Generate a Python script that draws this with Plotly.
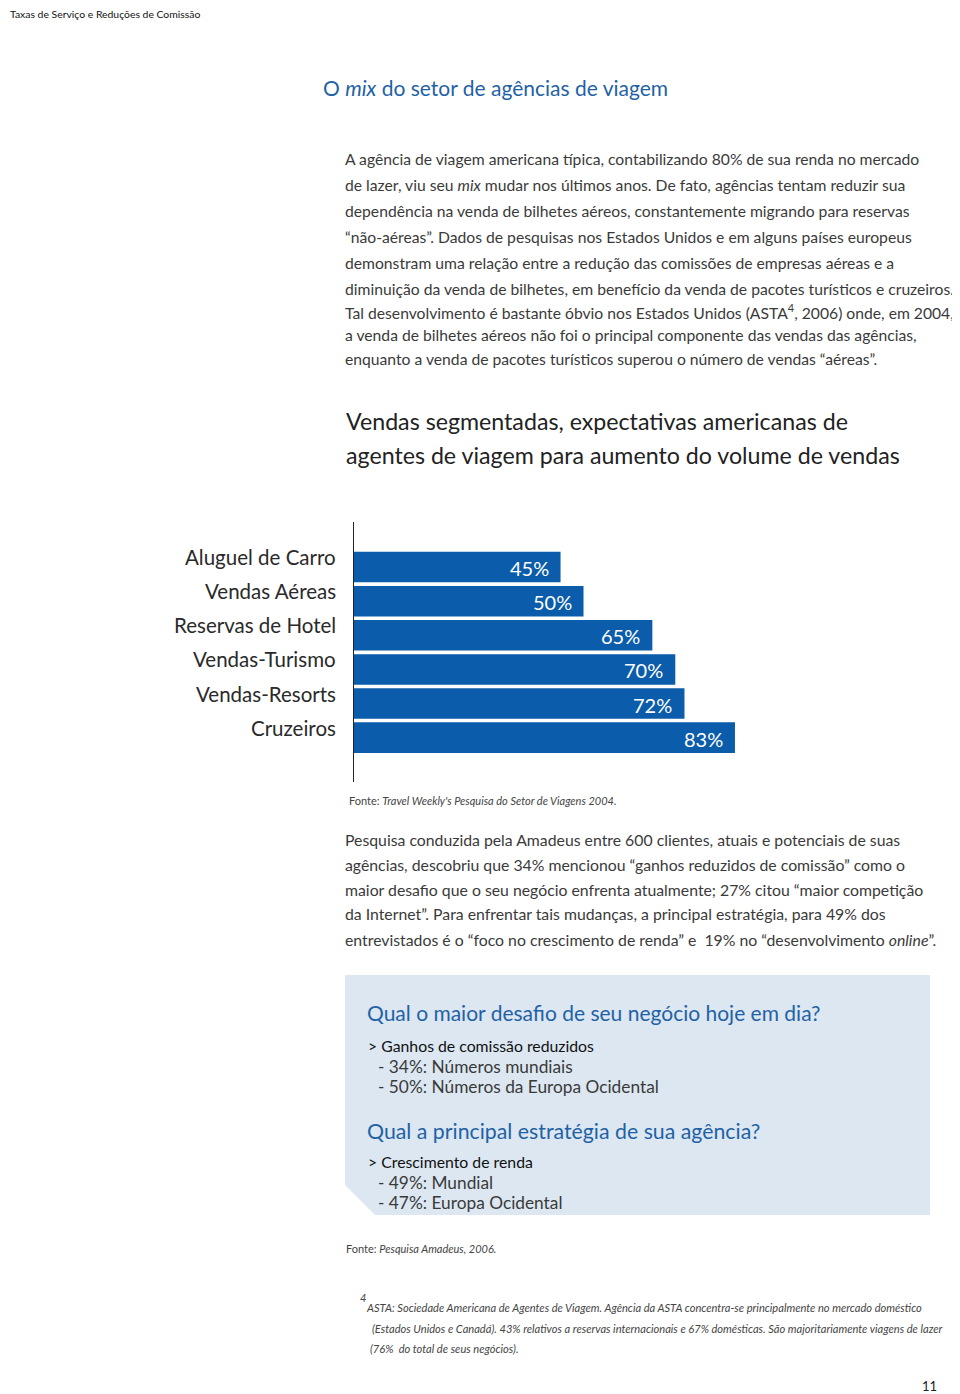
import plotly.graph_objects as go

# The page body has an 8px default margin; the figure is sized so that it
# fills the 960x1394 window exactly from that offset.
OFF = 8
W, H = 960 - OFF, 1394 - OFF

# ---- data ----
categories = ["Aluguel de Carro", "Vendas Aéreas", "Reservas de Hotel",
              "Vendas-Turismo", "Vendas-Resorts", "Cruzeiros"]
values = [45, 50, 65, 70, 72, 83]
value_labels = ["45%", "50%", "65%", "70%", "72%", "83%"]

header = "Taxas de Serviço e Reduções de Comissão"
page_title = "O <i>mix</i> do setor de agências de viagem"
para1 = [
    "A agência de viagem americana típica, contabilizando 80% de sua renda no mercado",
    "de lazer, viu seu <i>mix</i> mudar nos últimos anos. De fato, agências tentam reduzir sua",
    "dependência na venda de bilhetes aéreos, constantemente migrando para reservas",
    "“não-aéreas”. Dados de pesquisas nos Estados Unidos e em alguns países europeus",
    "demonstram uma relação entre a redução das comissões de empresas aéreas e a",
    "diminuição da venda de bilhetes, em benefício da venda de pacotes turísticos e cruzeiros.",
    "Tal desenvolvimento é bastante óbvio nos Estados Unidos (ASTA<sup>4</sup>, 2006) onde, em 2004,",
    "a venda de bilhetes aéreos não foi o principal componente das vendas das agências,",
    "enquanto a venda de pacotes turísticos superou o número de vendas “aéreas”.",
]
chart_title = ["Vendas segmentadas, expectativas americanas de",
               "agentes de viagem para aumento do volume de vendas"]
source1 = "Fonte: <i>Travel Weekly's Pesquisa do Setor de Viagens 2004.</i>"
para2 = [
    "Pesquisa conduzida pela Amadeus entre 600 clientes, atuais e potenciais de suas",
    "agências, descobriu que 34% mencionou “ganhos reduzidos de comissão” como o",
    "maior desafio que o seu negócio enfrenta atualmente; 27% citou “maior competição",
    "da Internet”. Para enfrentar tais mudanças, a principal estratégia, para 49% dos",
    "entrevistados é o “foco no crescimento de renda” e  19% no “desenvolvimento <i>online</i>”.",
]
box_q1 = "Qual o maior desafio de seu negócio hoje em dia?"
box_a1 = ["> Ganhos de comissão reduzidos", "- 34%: Números mundiais",
          "- 50%: Números da Europa Ocidental"]
box_q2 = "Qual a principal estratégia de sua agência?"
box_a2 = ["> Crescimento de renda", "- 49%: Mundial", "- 47%: Europa Ocidental"]
source2 = "Fonte: <i>Pesquisa Amadeus, 2006.</i>"
footnote = [
    "ASTA: Sociedade Americana de Agentes de Viagem. Agência da ASTA concentra-se principalmente no mercado doméstico",
    "(Estados Unidos e Canadá). 43% relativos a reservas internacionais e 67% domésticas. São majoritariamente viagens de lazer",
    "(76%  do total de seus negócios).",
]
page_number = "11"

BLUE = "#0B5CAA"
HEAD_BLUE = "#1F62A5"
TXT = "#3a3a3a"
FONT = "Lato"


def px(x, y):
    return (x - OFF) / W, 1 - (y - OFF) / H


annotations = []


def text(x, y, s, size, color=TXT, anchor="left", family=FONT):
    # annotations add ~2px of padding around their text
    ax, ay = px(x - 2 if anchor == "left" else x + 2, y)
    annotations.append(dict(x=ax, y=ay, xref="paper", yref="paper", text=s,
                            showarrow=False, xanchor=anchor, yanchor="middle",
                            font=dict(size=size, color=color, family=family)))


fig = go.Figure()
fig.add_trace(go.Bar(x=values, y=categories, orientation="h",
                     marker=dict(color=BLUE, line=dict(width=0)),
                     hoverinfo="skip"))

# value labels inside bars
for c, v, lab in zip(categories, values, value_labels):
    annotations.append(dict(x=v, y=c, xref="x", yref="y", text=lab, showarrow=False,
                            xanchor="right", yanchor="middle", xshift=-10, yshift=-1,
                            font=dict(size=20, color="white", family=FONT)))
# category labels
for c in categories:
    annotations.append(dict(x=0, y=c, xref="x", yref="y", text=c, showarrow=False,
                            xanchor="right", yanchor="middle", xshift=-16, yshift=10,
                            font=dict(size=20.5, color="#2a2a2a", family=FONT)))

# page texts
text(OFF + 2, 14, header, 10.4, "#111")
text(323, 87, page_title, 21, HEAD_BLUE)
p1_y = [159, 185, 211, 237, 263, 289, 311, 335, 359]
for y, s in zip(p1_y, para1):
    text(345, y, s, 15.7)
text(346, 421, chart_title[0], 23.2, "#222")
text(346, 455, chart_title[1], 23.2, "#222")
text(349, 800, source1, 11, "#444")
p2_y = [839, 864, 889, 914, 939]
for y, s in zip(p2_y, para2):
    text(345, y, s, 15.8)

# box texts
text(367, 1012, box_q1, 21, HEAD_BLUE)
text(368, 1045, box_a1[0], 15.8, "#111")
text(378, 1066, box_a1[1], 17.3, TXT)
text(378, 1086, box_a1[2], 17.3, TXT)
text(367, 1131, box_q2, 21.3, HEAD_BLUE)
text(368, 1161, box_a2[0], 15.8, "#111")
text(378, 1182, box_a2[1], 17.3, TXT)
text(378, 1202, box_a2[2], 17.3, TXT)

text(346, 1248, source2, 11, "#444")
text(360, 1297, "<i>4</i>", 11, "#444")
text(366, 1307, "<i>" + footnote[0] + "</i>", 11.1, "#444")
text(372, 1328, "<i>" + footnote[1] + "</i>", 11.1, "#444")
text(370, 1348, "<i>" + footnote[2] + "</i>", 11.1, "#444")
text(937, 1386, page_number, 13, "#222", anchor="right")

# box shape with cut corner (paper coords)
x0, x1, y0, y1 = 345, 930, 975, 1215
cut = 30
pts = [(x0, y0), (x1, y0), (x1, y1), (x0 + cut, y1), (x0, y1 - cut)]
path = "M " + " L ".join(f"{px(a, b)[0]:.5f},{px(a, b)[1]:.5f}" for a, b in pts) + " Z"

shapes = [dict(type="path", path=path, xref="paper", yref="paper",
               fillcolor="#DCE7F1", line=dict(width=0), layer="below")]

ax_left, _ = px(354, 0)
ax_right, _ = px(354 + 4.59 * 100, 0)
_, ax_top = px(0, 522)
_, ax_bot = px(0, 782)

fig.update_layout(
    width=W, height=H, margin=dict(l=0, r=0, t=0, b=0),
    paper_bgcolor="white", plot_bgcolor="white", showlegend=False,
    bargap=0.105,
    xaxis=dict(domain=[ax_left, ax_right], range=[0, 100],
               visible=False, fixedrange=True),
    yaxis=dict(domain=[ax_bot, ax_top], type="category",
               range=[6.3, -1.32], showticklabels=False, showgrid=False,
               zeroline=False, showline=True, linecolor="#222", linewidth=1.2,
               ticks="", fixedrange=True),
    annotations=annotations, shapes=shapes,
)

fig.write_html("out.html")
